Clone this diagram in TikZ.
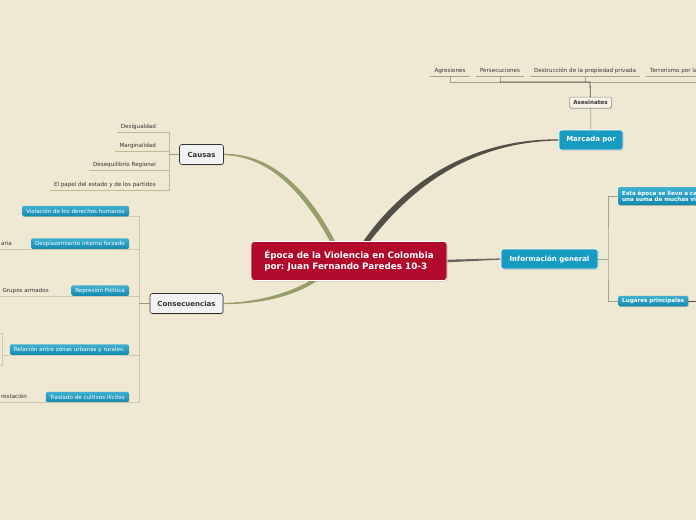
\documentclass[tikz,border=0pt]{standalone}
\usepackage{fontspec}
\setmainfont{DejaVu Sans}
\usetikzlibrary{backgrounds}
\definecolor{paper}{RGB}{239,232,210}
\definecolor{rootred}{RGB}{178,10,44}
\definecolor{tealmid}{RGB}{24,155,193}
\definecolor{tealtop}{RGB}{64,176,208}
\definecolor{tealbot}{RGB}{20,137,175}
\definecolor{olive}{RGB}{150,158,108}
\definecolor{trunk}{RGB}{82,79,70}
\definecolor{twig}{RGB}{186,188,148}
\definecolor{twigc}{RGB}{205,200,170}
\definecolor{stem}{RGB}{166,162,144}
\definecolor{ink}{RGB}{51,51,51}

\begin{document}
\frenchspacing
\begin{tikzpicture}[x=1pt, y=-1pt,
  dropshade/.style={preaction={fill=black,opacity=0.18,transform canvas={xshift=0.6pt,yshift=-0.8pt}}},
  rootbox/.style={rectangle,rounded corners=3pt,fill=rootred,draw=white,line width=0.8pt,text=white,
    font=\bfseries\fontsize{8.8}{11}\selectfont,align=left,minimum width=196pt,minimum height=39pt,dropshade},
  graybox/.style={rectangle,rounded corners=2.5pt,fill=black!5,draw=black!80,line width=0.6pt,text=ink,
    font=\bfseries\fontsize{7}{8}\selectfont,minimum height=20pt,dropshade},
  bluebox/.style={rectangle,rounded corners=2.5pt,fill=tealmid,draw=white,line width=0.6pt,text=white,
    font=\bfseries\fontsize{7}{8}\selectfont,minimum height=20pt,dropshade},
  smallbox/.style={rectangle,rounded corners=2pt,fill=paper!50!white,draw=black!45,line width=0.5pt,text=ink,
    font=\bfseries\fontsize{5.6}{6}\selectfont,minimum height=11pt,minimum width=42pt,dropshade},
  leafbox/.style={rectangle,rounded corners=1.5pt,top color=tealtop,bottom color=tealbot,draw=none,text=white,
    font=\fontsize{5.6}{6.4}\selectfont,inner xsep=4pt,inner ysep=0pt,minimum height=10.5pt,dropshade},
  leaf/.style={font=\fontsize{5.6}{6.4}\selectfont,text=ink,inner xsep=4pt,inner ysep=2pt,text height=4.1pt,text depth=1.3pt},
  twigline/.style={draw=twig,line width=0.7pt},
  twigcline/.style={draw=twigc,line width=0.7pt},
  stemline/.style={draw=stem,line width=0.7pt},
  trunkline/.style={draw=trunk,line width=0.8pt}]
\useasboundingbox (0,0) rectangle (696,520);
\clip (0,0) rectangle (696,520);

% main topics
\node[rootbox] (ep) at (349,261) {Época de la Violencia en Colombia\\por: Juan Fernando Paredes 10-3};
\node[graybox,minimum width=44pt] (cau) at (201.5,154.5) {Causas};
\node[graybox,minimum width=73pt] (cons) at (186.5,303.5) {Consecuencias};
\node[bluebox,minimum width=64pt] (mp) at (591,140) {Marcada por};
\node[bluebox,minimum width=97pt] (ig) at (549.5,259) {Información general};
\node[smallbox] (as) at (590.5,102.5) {Asesinatos};

% branches under the nodes
\begin{scope}[on background layer]
\fill[paper] (0,0) rectangle (696,520);
\fill[olive] ([yshift=0.6pt]cau.east) .. controls (270,153) and (308,188) .. ([xshift=-12.5pt,yshift=-3pt]ep.north)
  -- ([xshift=-17.5pt,yshift=-3pt]ep.north) .. controls (303,191) and (268,156) .. ([yshift=-0.6pt]cau.east) -- cycle;
\fill[olive] ([yshift=0.5pt]cons.east) .. controls (262,302) and (294,291) .. ([xshift=-36pt,yshift=2pt]ep.south)
  -- ([xshift=-29pt,yshift=2pt]ep.south) .. controls (298,295) and (262,304.5) .. ([yshift=-0.5pt]cons.east) -- cycle;
\fill[trunk] ([xshift=13pt,yshift=-2pt]ep.north) .. controls (393,198) and (455,139) .. ([yshift=0.7pt]mp.west)
  -- ([yshift=-0.5pt]mp.west) .. controls (458,142) and (400,202) .. ([xshift=19.5pt,yshift=-2pt]ep.north) -- cycle;
\fill[trunk!85!paper] ([yshift=1.3pt]ep.east) -- ([yshift=0.6pt]ig.west) -- ([yshift=-0.6pt]ig.west) -- ([yshift=-1.3pt]ep.east) -- cycle;
\end{scope}

% Causas
\node[leaf,anchor=south east] (ca1) at (160,132) {Desigualdad};
\node[leaf,anchor=south east] (ca2) at (160,151) {Marginalidad};
\node[leaf,anchor=south east] (ca3) at (160,170) {Desequilibrio Regional};
\node[leaf,anchor=south east] (ca4) at (160,190) {El papel del estado y de los partidos};
\coordinate (cb) at (169,154.5);
\draw[twigline] (ca1.south west) -- (ca1.south west -| cb) -- (ca4.south west -| cb) -- (ca4.south west);
\draw[twigline] (ca2.south west) -- (ca2.south west -| cb);
\draw[twigline] (ca3.south west) -- (ca3.south west -| cb);
\draw[draw=olive,line width=0.8pt] (cb) -- (cau);

% Consecuencias
\node[leafbox,anchor=east] (co1) at (129,211) {Violación de los derechos humanos};
\node[leafbox,anchor=east] (co2) at (129,243.5) {Desplazamiento interno forzado};
\node[leafbox,anchor=east] (co3) at (129,290.5) {Represión Política};
\node[leafbox,anchor=east] (co4) at (129,349.5) {Relación entre zonas urbanas y rurales.};
\node[leafbox,anchor=east] (co5) at (129,397) {Traslado de cultivos ilícitos};
\node[leaf,anchor=south east] (g2) at (16,0 |- co2.south) {aria};
\node[leaf,anchor=south east] (g3) at (53,0 |- co3.south) {Grupos armados};
\node[leaf,anchor=south east] (g5) at (31,0 |- co5.south) {restación};
\coordinate (kb) at (139,303.5);
\draw[twigcline] (co1.south east) -- (co1.south east -| kb) -- (co5.south east -| kb) -- (co5.south east);
\draw[twigcline] (co2.south east) -- (co2.south east -| kb);
\draw[twigcline] (co3.south east) -- (co3.south east -| kb);
\draw[twigcline] (co4.south east) -- (co4.south east -| kb);
\draw[twigcline] (g2.south west) -- (co2.south east);
\draw[twigcline] (g3.south west) -- (co3.south east);
\draw[twigcline] (g5.south west) -- (co5.south east);
\coordinate (rb) at (2.5,0 |- co4.south);
\coordinate (r1) at (-5,333);
\coordinate (r2) at (-5,365);
\draw[twigcline] (co4.south west) -- (rb);
\draw[twigcline] (r1) -| (rb) |- (r2);
\draw[draw=olive,line width=0.8pt] (kb) -- (cons);

% Marcada por
\node[leaf,anchor=south] (ag) at (450,76) {Agresiones};
\node[leaf,anchor=south] (pe) at (500,76) {Persecuciones};
\node[leaf,anchor=south] (de) at (585,76) {Destrucción de la propiedad privada};
\node[leaf,anchor=south west] (te) at (646,76) {Terrorismo por la};
\coordinate (tb) at (590,82);
\coordinate (tr) at (700,82);
\coordinate (tu) at (700,76);
\draw[stemline] (ag.south west) -- (ag.south east);
\draw[stemline] (pe.south west) -- (pe.south east);
\draw[stemline] (de.south west) -- (de.south east);
\draw[stemline] (te.south west) -- (tu);
\draw[stemline] (ag.south) -- (ag.south |- tb) -- (tr);
\draw[stemline] (pe.south) -- (pe.south |- tb);
\draw[stemline] (de.south) -- (de.south |- tb);
\draw[trunkline] (as) -- (tb) -- (pe.south |- tb);
\draw[stemline] (as) -- (mp);

% Informacion general
\node[leafbox,anchor=west,font=\bfseries\fontsize{5.6}{6.4}\selectfont,text width=92pt,align=left,minimum height=18pt] (in1) at (618,196)
  {Esta época se llevo a ca\\una suma de muchas vi};
\node[leafbox,anchor=west,font=\bfseries\fontsize{5.6}{6.4}\selectfont] (in2) at (618,301) {Lugares principales};
\coordinate (ib) at (608,259);
\coordinate (lp) at (700,301);
\draw[stemline] (ig) -- (ib);
\draw[stemline] (in1.west) -| (ib) |- (in2.west);
\draw[trunkline] (in2) -- (lp);
\end{tikzpicture}
\end{document}
